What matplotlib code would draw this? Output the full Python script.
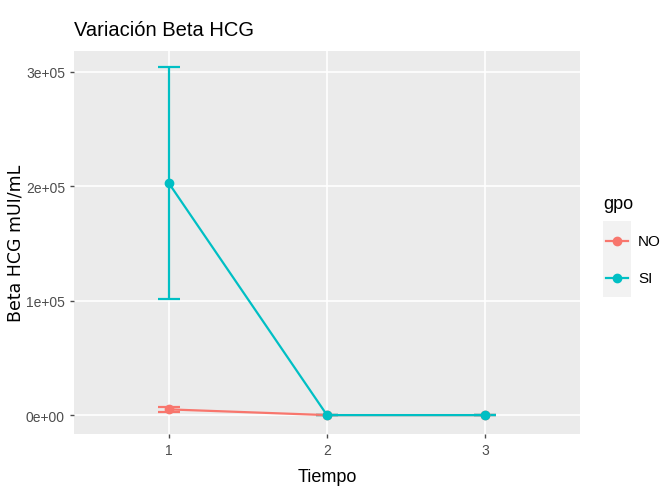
import matplotlib
matplotlib.use("Agg")
import matplotlib.pyplot as plt
from matplotlib.lines import Line2D
from matplotlib.patches import Rectangle

# mean Beta HCG per group and time, with error-bar half widths
tiempo = [1, 2, 3]
no_media = [5000, 0, 0]
no_err = [2000, 0, 0]
si_media = [202500, 0, 0]
si_err = [101500, 0, 0]

grupos = ["NO", "SI"]
colores = {"NO": "#F8766D", "SI": "#00BFC4"}
yticks = [0, 100000, 200000, 300000]
ytick_labels = ["0e+00", "1e+05", "2e+05", "3e+05"]

fuente = ["Liberation Sans", "DejaVu Sans"]
W, H = 660, 489

fig = plt.figure(figsize=(6.6, 4.89), dpi=100)
ax = fig.add_axes([74 / W, 1 - 435 / H, (580 - 74) / W, (435 - 52) / H])
ax.set_facecolor("#EBEBEB")

for g, media, err in [("NO", no_media, no_err), ("SI", si_media, si_err)]:
    c = colores[g]
    ax.errorbar(tiempo, media, yerr=err, fmt="none", ecolor=c, capsize=8,
                capthick=1.6, elinewidth=1.6, zorder=3)
    ax.plot(tiempo, media, color=c, lw=1.6, marker="o", ms=6, zorder=4)

ax.set_xlim(0.4, 3.6)
ax.set_ylim(-16500, 318000)
ax.set_xticks(tiempo)
ax.set_xticklabels([str(t) for t in tiempo], family=fuente)
ax.set_yticks(yticks)
ax.set_yticklabels(ytick_labels, family=fuente)
ax.grid(True, color="white", lw=1.2, zorder=0)
ax.set_axisbelow(True)
for s in ax.spines.values():
    s.set_visible(False)
ax.tick_params(colors="#4D4D4D", labelsize=10, length=3, width=1)
for lbl in ax.get_xticklabels() + ax.get_yticklabels():
    lbl.set_color("#4D4D4D")

ax.set_xlabel("Tiempo", fontsize=13, family=fuente, labelpad=8)
ax.set_ylabel("Beta HCG mUI/mL", fontsize=12.5, family="DejaVu Sans", labelpad=1)
fig.text(74 / W, 1 - 36 / H, "Variación Beta HCG", fontsize=14.5, family=fuente,
         va="baseline")

# legend drawn by hand: grey key column with line + point
fig.text(603 / W, 1 - 205 / H, "gpo", fontsize=13, family=fuente, va="center")
fig.add_artist(Rectangle((603 / W, 1 - 298 / H), 28 / W, 76 / H,
                         transform=fig.transFigure, facecolor="#F2F2F2",
                         edgecolor="none"))
for g, ypix in zip(grupos, [242, 279]):
    yf = 1 - ypix / H
    fig.add_artist(Line2D([606 / W, 628 / W], [yf, yf], color=colores[g], lw=1.6,
                          transform=fig.transFigure))
    fig.add_artist(Line2D([617 / W], [yf], color=colores[g], marker="o", ms=6,
                          transform=fig.transFigure))
    fig.text(638 / W, yf, g, fontsize=11, family=fuente, va="center")

fig.savefig("out.png", dpi=100)
